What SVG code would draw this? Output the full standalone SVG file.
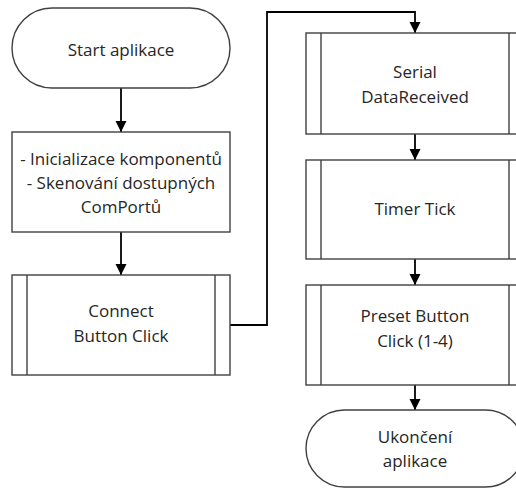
<svg xmlns="http://www.w3.org/2000/svg" width="516" height="488" viewBox="0 0 516 488">
  <defs>
    <marker id="arrow" markerWidth="12" markerHeight="12" refX="11" refY="6" orient="auto" markerUnits="userSpaceOnUse">
      <path d="M0,0.5 L11,6 L0,11.5 Z" fill="#000"/>
    </marker>
    <style>
      .shape { fill: #fff; stroke: #404040; stroke-width: 1.4; }
      .bar { fill: none; stroke: #404040; stroke-width: 1.4; }
      .conn { fill: none; stroke: #000; stroke-width: 1.8; }
      text { font-family: "Open Sans", "Noto Sans", "DejaVu Sans", sans-serif; font-size: 17px; fill: #262626; text-anchor: middle; }
    </style>
  </defs>

  <rect width="516" height="488" fill="#fff"/>

  <!-- connectors -->
  <g id="connectors">
    <line class="conn" x1="121" y1="88" x2="121" y2="132" marker-end="url(#arrow)"/>
    <line class="conn" x1="121" y1="232" x2="121" y2="275" marker-end="url(#arrow)"/>
    <polyline class="conn" points="230,325 267,325 267,12 415,12 415,33" marker-end="url(#arrow)"/>
    <line class="conn" x1="415" y1="134" x2="415" y2="160" marker-end="url(#arrow)"/>
    <line class="conn" x1="415" y1="259" x2="415" y2="285" marker-end="url(#arrow)"/>
    <line class="conn" x1="415" y1="385" x2="415" y2="410" marker-end="url(#arrow)"/>
  </g>

  <!-- start terminator -->
  <g id="start">
    <rect class="shape" x="12" y="8" width="218" height="80" rx="40" ry="40"/>
    <text x="121" y="56">Start aplikace</text>
  </g>

  <!-- initialisation process -->
  <g id="init">
    <rect class="shape" x="12" y="132" width="218" height="100"/>
    <text x="121" y="165">- Inicializace komponentů</text>
    <text x="121" y="189">- Skenování dostupných</text>
    <text x="121" y="213">ComPortů</text>
  </g>

  <!-- predefined process: connect -->
  <g id="connect">
    <rect class="shape" x="12" y="275" width="218" height="100"/>
    <line class="bar" x1="27" y1="275" x2="27" y2="375"/>
    <line class="bar" x1="215" y1="275" x2="215" y2="375"/>
    <text x="121" y="317">Connect</text>
    <text x="121" y="342">Button Click</text>
  </g>

  <!-- predefined process: serial data received -->
  <g id="serial">
    <rect class="shape" x="306" y="33" width="218" height="101"/>
    <line class="bar" x1="321" y1="33" x2="321" y2="134"/>
    <line class="bar" x1="509" y1="33" x2="509" y2="134"/>
    <text x="415" y="78">Serial</text>
    <text x="415" y="103">DataReceived</text>
  </g>

  <!-- predefined process: timer tick -->
  <g id="timer">
    <rect class="shape" x="306" y="160" width="218" height="99"/>
    <line class="bar" x1="321" y1="160" x2="321" y2="259"/>
    <line class="bar" x1="509" y1="160" x2="509" y2="259"/>
    <text x="415" y="215">Timer Tick</text>
  </g>

  <!-- predefined process: preset buttons -->
  <g id="preset">
    <rect class="shape" x="306" y="285" width="218" height="100"/>
    <line class="bar" x1="321" y1="285" x2="321" y2="385"/>
    <line class="bar" x1="509" y1="285" x2="509" y2="385"/>
    <text x="415" y="322">Preset Button</text>
    <text x="415" y="347">Click (1-4)</text>
  </g>

  <!-- end terminator -->
  <g id="end">
    <rect class="shape" x="306" y="410" width="218" height="77" rx="38.5" ry="38.5"/>
    <text x="415" y="443">Ukončení</text>
    <text x="415" y="467">aplikace</text>
  </g>
</svg>
